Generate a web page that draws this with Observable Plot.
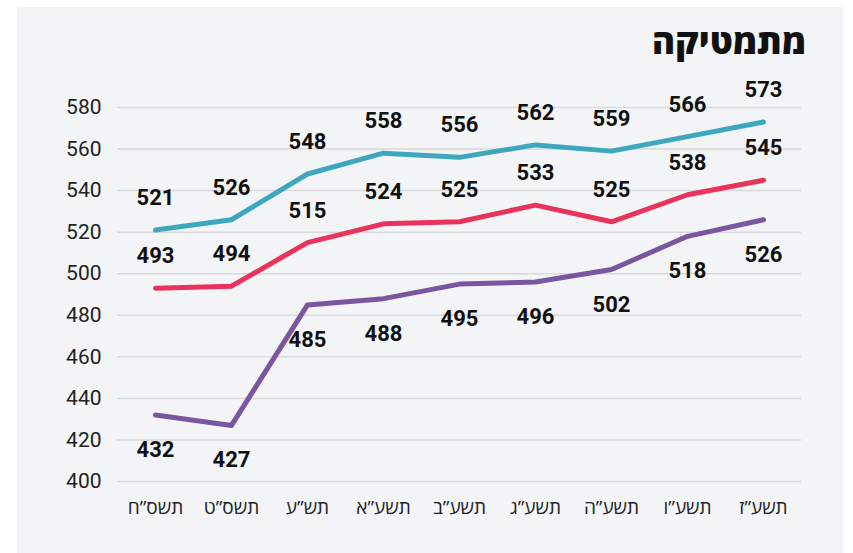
<!DOCTYPE html>
<html lang="he">
<head>
<meta charset="utf-8">
<script src="https://cdn.jsdelivr.net/npm/d3@7"></script>
<script src="https://cdn.jsdelivr.net/npm/@observablehq/plot@0.6"></script>
<style>
  html, body { margin: 0; padding: 0; background: #ffffff; }
  body { width: 853px; height: 553px; position: relative; overflow: hidden; font-family: Roboto, "Liberation Sans", "DejaVu Sans", sans-serif; }
  #panel { position: absolute; left: 17px; top: 7px; width: 826px; height: 560px; background: #f3f4f6; }
  #title { position: absolute; right: 47px; top: 17px; font-size: 35px; font-weight: 800; color: #111; direction: rtl; font-family: "Open Sans", "Liberation Sans", sans-serif; }
  #chart { position: absolute; left: 0; top: 0; }
</style>
</head>
<body>
<div id="panel"></div>
<div id="title">מתמטיקה</div>
<div id="chart"></div>
<script>
const categories = ["תשס\u201dח", "תשס\u201dט", "תש\u201dע", "תשע\u201dא", "תשע\u201dב", "תשע\u201dג", "תשע\u201dה", "תשע\u201dו", "תשע\u201dז"];
const tealValues = [521, 526, 548, 558, 556, 562, 559, 566, 573];
const redValues = [493, 494, 515, 524, 525, 533, 525, 538, 545];
const purpleValues = [432, 427, 485, 488, 495, 496, 502, 518, 526];
const yTicks = [400, 420, 440, 460, 480, 500, 520, 540, 560, 580];

const seriesList = [
  {name: "teal", values: tealValues, color: "#3fa7bd", dy: -32},
  {name: "red", values: redValues, color: "#e8335c", dy: -32},
  {name: "purple", values: purpleValues, color: "#7a55a0", dy: 35}
];
const rows = seriesList.flatMap(s => s.values.map((v, i) => ({series: s.name, cat: categories[i], value: v})));

const marks = [
  Plot.ruleY(yTicks, {stroke: "#d9d9d9", strokeWidth: 1.5}),
  Plot.axisY({ticks: yTicks, tickSize: 0, tickPadding: 16, fontSize: 21, label: null, fill: "#222"}),
  Plot.axisX({tickSize: 0, tickPadding: 19, fontSize: 19, label: null, fill: "#222", fontFamily: "'Open Sans', 'Liberation Sans', sans-serif"})
];
for (const s of seriesList) {
  const d = rows.filter(r => r.series === s.name);
  marks.push(Plot.line(d, {x: "cat", y: "value", stroke: s.color, strokeWidth: 5, strokeLinecap: "round", strokeLinejoin: "round"}));
  marks.push(Plot.text(d, {x: "cat", y: "value", text: r => String(r.value), dy: s.dy, fontSize: 22, fontWeight: "bold", fill: "#111"}));
}

const chart = Plot.plot({
  width: 853,
  height: 553,
  marginLeft: 117,
  marginRight: 52,
  marginTop: 107,
  marginBottom: 72,
  style: {background: "transparent", fontFamily: "Roboto, 'Liberation Sans', sans-serif", overflow: "visible"},
  x: {type: "point", domain: categories, padding: 0.5},
  y: {domain: [400, 580]},
  marks
});
document.getElementById("chart").appendChild(chart);
</script>
</body>
</html>
